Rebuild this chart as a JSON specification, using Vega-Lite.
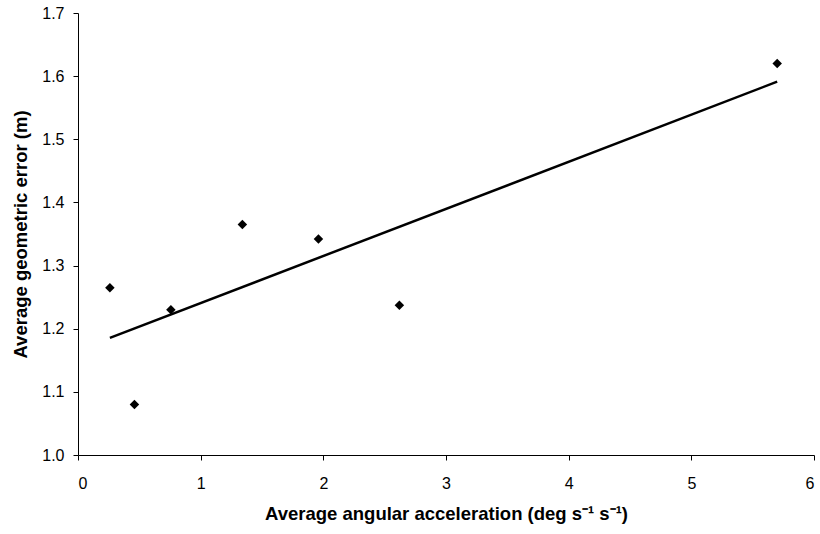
{
  "$schema": "https://vega.github.io/schema/vega-lite/v6.json",
  "autosize": "none",
  "width": 736,
  "height": 442,
  "padding": {"left": 78, "top": 13, "right": 6, "bottom": 79},
  "background": "white",
  "config": {
    "view": {"stroke": null},
    "font": "Liberation Sans",
    "axis": {
      "grid": false,
      "domainColor": "#000000",
      "tickColor": "#000000",
      "labelColor": "#000000",
      "titleColor": "#000000",
      "labelFont": "Liberation Sans",
      "titleFont": "Liberation Sans",
      "labelFontSize": 16,
      "titleFontSize": 18.5,
      "titleFontWeight": "bold",
      "tickSize": 5,
      "domainWidth": 1,
      "tickWidth": 1
    }
  },
  "data": {
    "values": [
      {"acc": 0.26, "err": 1.265},
      {"acc": 0.46, "err": 1.080},
      {"acc": 0.757, "err": 1.230},
      {"acc": 1.34, "err": 1.365},
      {"acc": 1.96, "err": 1.342},
      {"acc": 2.62, "err": 1.237},
      {"acc": 5.70, "err": 1.620}
    ]
  },
  "layer": [
    {
      "transform": [
        {"regression": "err", "on": "acc", "method": "linear", "extent": [0.26, 5.7]}
      ],
      "mark": {"type": "line", "color": "#000000", "strokeWidth": 2.5},
      "encoding": {
        "x": {"field": "acc", "type": "quantitative"},
        "y": {"field": "err", "type": "quantitative"}
      }
    },
    {
      "mark": {"type": "point", "shape": "diamond", "filled": true, "color": "#000000", "opacity": 1, "size": 90},
      "encoding": {
        "x": {
          "field": "acc",
          "type": "quantitative",
          "scale": {"domain": [0, 6], "nice": false, "zero": false},
          "axis": {
            "title": "Average angular acceleration (deg s⁻¹ s⁻¹)",
            "values": [0, 1, 2, 3, 4, 5, 6],
            "format": "d",
            "labelPadding": 15,
            "titlePadding": 13
          }
        },
        "y": {
          "field": "err",
          "type": "quantitative",
          "scale": {"domain": [1.0, 1.7], "nice": false, "zero": false},
          "axis": {
            "title": "Average geometric error (m)",
            "values": [1.0, 1.1, 1.2, 1.3, 1.4, 1.5, 1.6, 1.7],
            "format": ".1f",
            "labelPadding": 9,
            "titlePadding": 11
          }
        }
      }
    }
  ]
}
